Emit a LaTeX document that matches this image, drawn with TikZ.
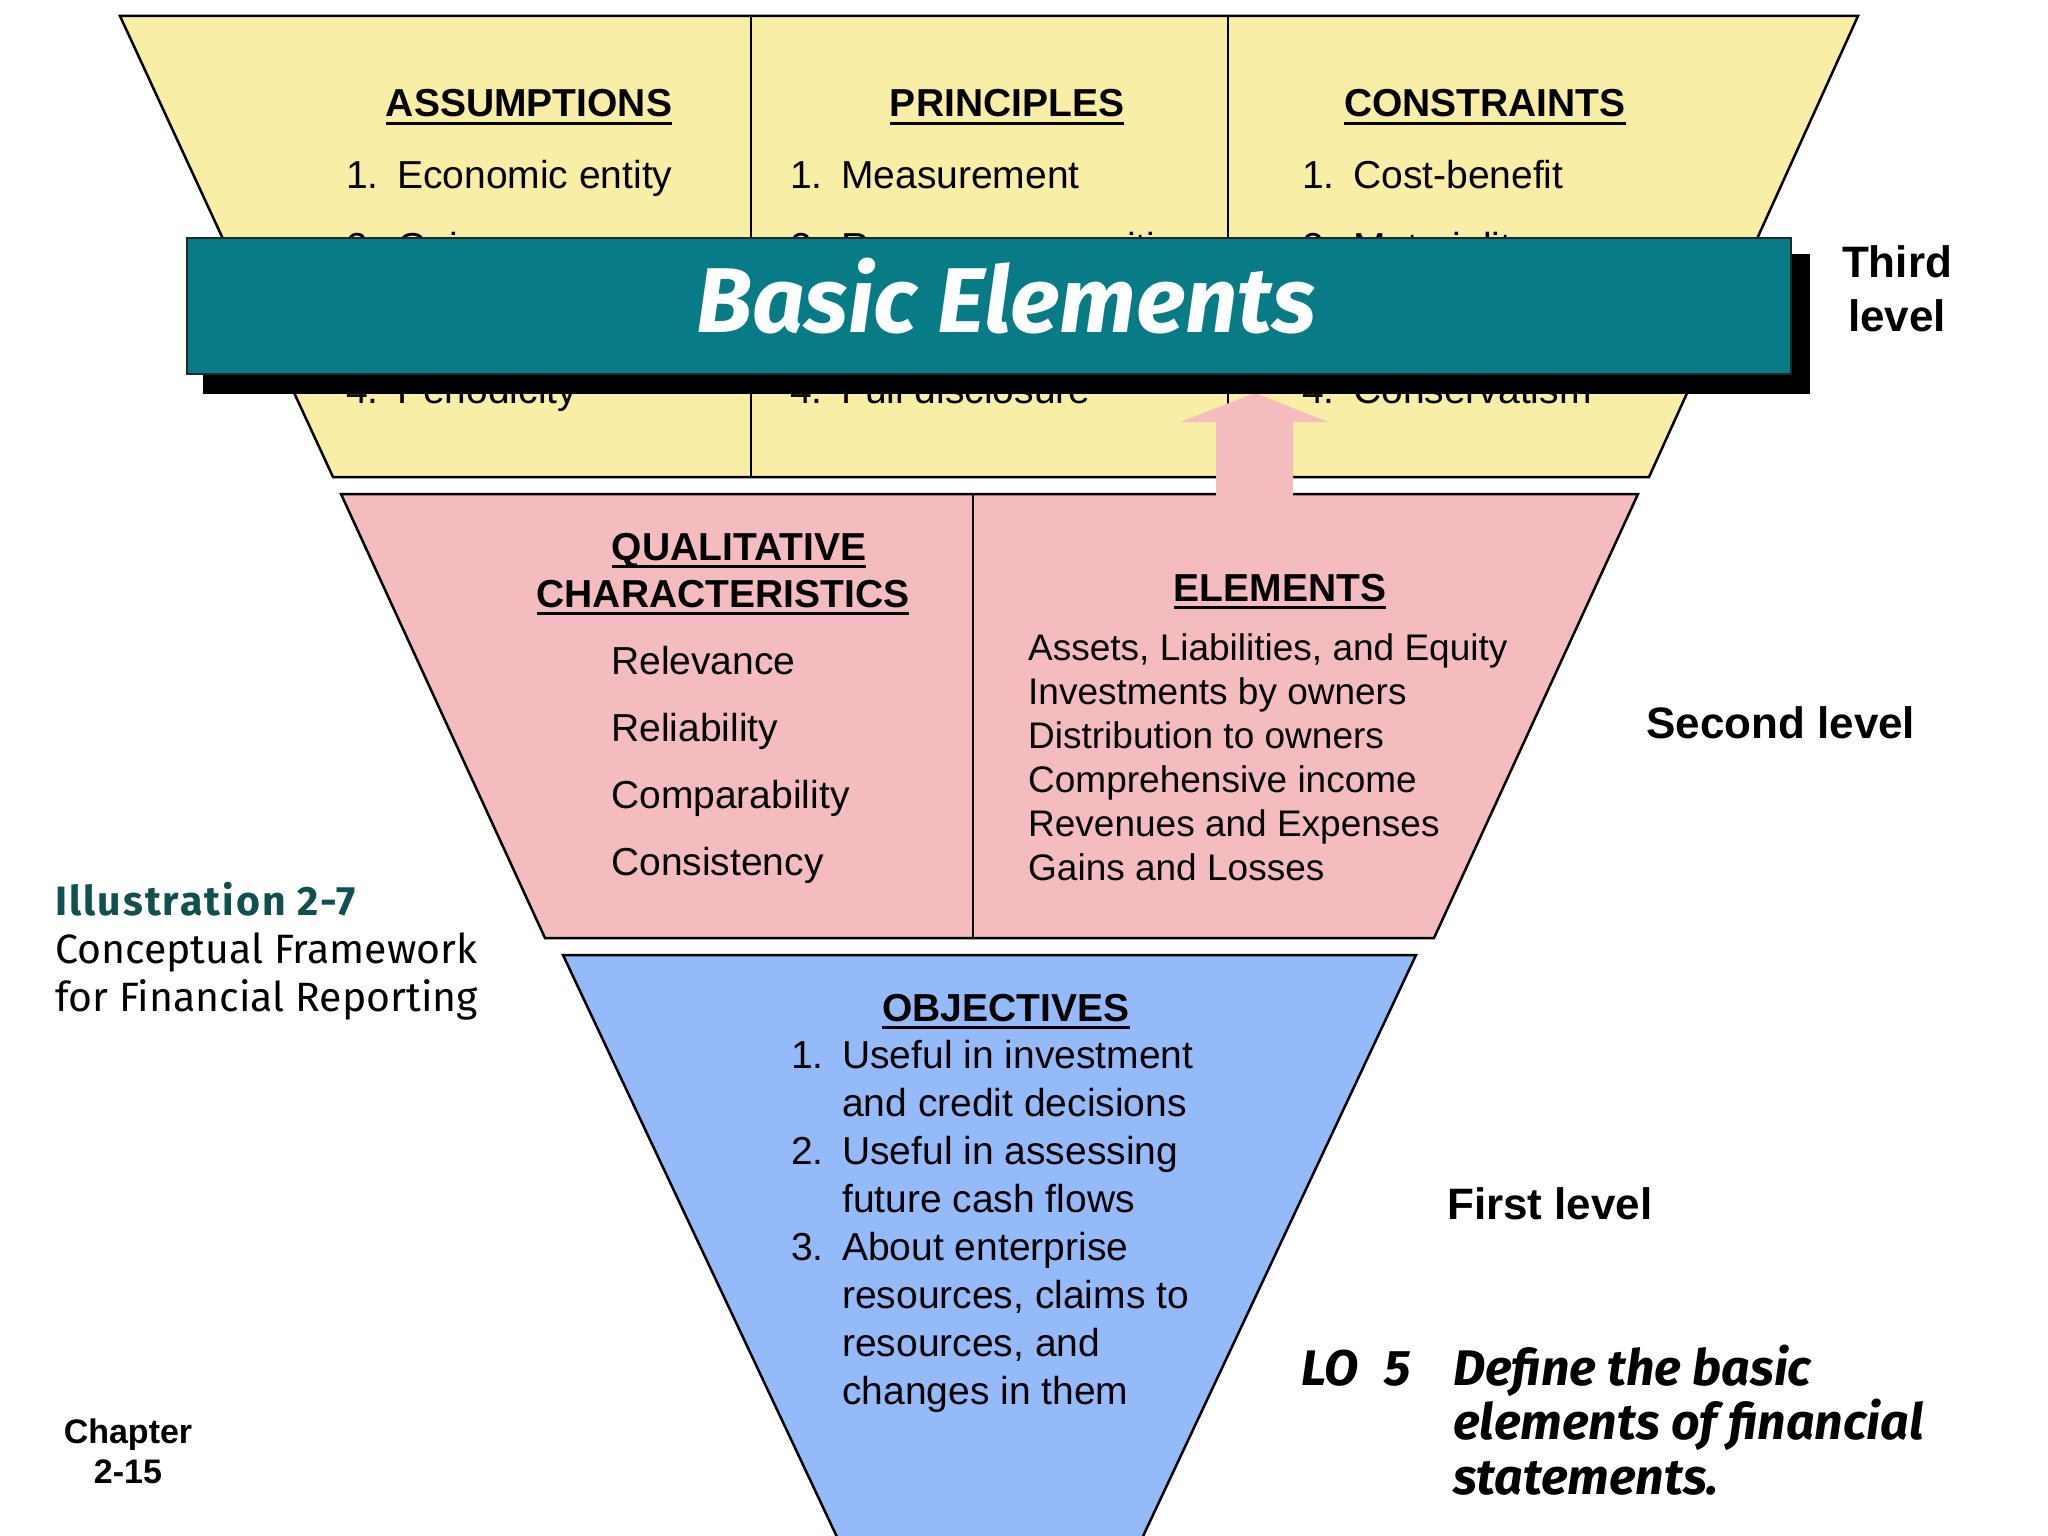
\documentclass[tikz,border=0pt]{standalone}
\usepackage{fontspec}
\setmainfont{Liberation Sans}
\newfontfamily\comicfont{Fira Sans}
\usetikzlibrary{positioning}
\definecolor{yellowtier}{RGB}{249,238,166}
\definecolor{pinktier}{RGB}{244,188,190}
\definecolor{bluetier}{RGB}{148,186,250}
\definecolor{bannerteal}{RGB}{8,124,134}
\definecolor{illteal}{RGB}{16,80,80}
\newcommand{\num}[1]{\makebox[51pt][l]{#1}}
\newsavebox{\headbox}
\newcommand{\uhead}[1]{\sbox{\headbox}{#1}\rlap{\rule[-8pt]{\wd\headbox}{3pt}}\usebox{\headbox}}

\begin{document}
\begin{tikzpicture}[x=1pt,y=-1pt,
  tier/.style={draw=black,line width=2.5pt},
  divider/.style={draw=black,line width=1.8pt},
  txt/.style={inner sep=0pt,anchor=base west,font=\fontsize{39pt}{47pt}\selectfont},
  elemtxt/.style={inner sep=0pt,anchor=base west,font=\fontsize{37pt}{44pt}\selectfont},
  head/.style={inner sep=0pt,anchor=base,font=\fontsize{39pt}{47pt}\selectfont\bfseries},
  level/.style={inner sep=0pt,anchor=base west,font=\fontsize{44pt}{53pt}\selectfont\bfseries},
  comic/.style={inner sep=0pt,anchor=base west,font=\fontsize{41pt}{48pt}\selectfont\comicfont},
  lotxt/.style={inner sep=0pt,anchor=base west,font=\fontsize{50pt}{55pt}\selectfont\comicfont\bfseries\itshape}]

  \fill[white] (0,0) rectangle (2048,1536);
  \useasboundingbox (0,0) rectangle (2048,1536);

  % third level
  \draw[tier,fill=yellowtier] (120,16) -- (1858,16) -- (1649,477) -- (333,477) -- cycle;
  \draw[divider] (751,16) -- (751,477);
  \draw[divider] (1228,16) -- (1228,477);

  \node[head] (asm)  at (529,117)  {\uhead{ASSUMPTIONS}};
  \node[head] (prin) at (1007,117) {\uhead{PRINCIPLES}};
  \node[head] (cons) at (1485,117) {\uhead{CONSTRAINTS}};

  \node[txt] (asm1) at (346,188) {\num{1.}Economic entity};
  \node[txt] (asm2) [below=72pt of asm1.base west,anchor=base west] {\num{2.}Going concern};
  \node[txt] (asm4) [below=143pt of asm2.base west,anchor=base west] {\num{4.}Periodicity};

  \node[txt] (prin1) at (790,188) {\num{1.}Measurement};
  \node[txt] (prin2) [below=72pt of prin1.base west,anchor=base west] {\num{2.}Revenue recognition};
  \node[txt] (prin4) [below=143pt of prin2.base west,anchor=base west] {\num{4.}Full disclosure};

  \node[txt] (cons1) at (1302,188) {\num{1.}Cost-benefit};
  \node[txt] (cons2) [below=72pt of cons1.base west,anchor=base west] {\num{2.}Materiality};
  \node[txt] (cons4) [below=143pt of cons2.base west,anchor=base west] {\num{4.}Conservatism};

  % second level
  \draw[tier,fill=pinktier] (341,494) -- (1638,494) -- (1434,938) -- (545,938) -- cycle;
  \draw[divider] (973,494) -- (973,938);

  \node[head] (qual) at (739,560)  {\uhead{QUALITATIVE}};
  \node[head] (char) at (723,607)  {\uhead{CHARACTERISTICS}};
  \node[head] (elem) at (1280,601) {\uhead{ELEMENTS}};

  \node[txt] (relev) at (611,674) {Relevance};
  \node[txt] (relia) [below=67pt of relev.base west,anchor=base west] {Reliability};
  \node[txt] (compa) [below=67pt of relia.base west,anchor=base west] {Comparability};
  \node[txt] (consi) [below=67pt of compa.base west,anchor=base west] {Consistency};

  \node[elemtxt] (ale)  at (1028,660) {Assets, Liabilities, and Equity};
  \node[elemtxt] (inv)  [below=44pt of ale.base west,anchor=base west]  {Investments by owners};
  \node[elemtxt] (dist) [below=44pt of inv.base west,anchor=base west]  {Distribution to owners};
  \node[elemtxt] (comp) [below=44pt of dist.base west,anchor=base west] {Comprehensive income};
  \node[elemtxt] (rev)  [below=44pt of comp.base west,anchor=base west] {Revenues and Expenses};
  \node[elemtxt] (gain) [below=44pt of rev.base west,anchor=base west]  {Gains and Losses};

  % arrow up to the basic elements
  \fill[pinktier] (1216,502) -- (1216,422) -- (1180,422) -- (1255,393) -- (1328,422) -- (1293,422) -- (1293,502) -- cycle;

  % banner
  \fill[black] (203,254) rectangle (1810,394);
  \draw[fill=bannerteal,draw=black!85,line width=1.5pt] (187,238) rectangle (1791,374);
  \node[inner sep=0pt,anchor=base,text=white,font=\fontsize{92pt}{110pt}\selectfont\comicfont\bfseries\itshape]
    (basic) at (1006,332) {Basic Elements};

  % first level
  \begin{scope}
    \clip (0,0) rectangle (2048,1536);
    \draw[tier,fill=bluetier] (563,955) -- (1416,955) -- (990,1862) -- cycle;
  \end{scope}

  \node[head] (obj) at (1006,1021) {\uhead{OBJECTIVES}};
  \node[txt] (obj1)  at (791,1068) {\num{1.}Useful in investment};
  \node[txt] (obj1b) [below=48pt of obj1.base west,anchor=base west]  {\num{}and credit decisions};
  \node[txt] (obj2)  [below=48pt of obj1b.base west,anchor=base west] {\num{2.}Useful in assessing};
  \node[txt] (obj2b) [below=48pt of obj2.base west,anchor=base west]  {\num{}future cash flows};
  \node[txt] (obj3)  [below=48pt of obj2b.base west,anchor=base west] {\num{3.}About enterprise};
  \node[txt] (obj3b) [below=48pt of obj3.base west,anchor=base west]  {\num{}resources, claims to};
  \node[txt] (obj3c) [below=48pt of obj3b.base west,anchor=base west] {\num{}resources, and};
  \node[txt] (obj3d) [below=48pt of obj3c.base west,anchor=base west] {\num{}changes in them};

  % level labels
  \node[level,anchor=base] (third)  at (1897,277) {Third};
  \node[level] (thirdb) [below=54pt of third.base,anchor=base] {level};
  \node[level] (second) at (1646,738)  {Second level};
  \node[level] (first)  at (1447,1219) {First level};

  % captions
  \node[comic,text=illteal,font=\fontsize{41pt}{48pt}\selectfont\comicfont\bfseries\addfontfeatures{LetterSpace=5}]
    (ill) at (55,915) {Illustration 2-7};
  \node[comic] (concept) [below=48pt of ill.base west,anchor=base west] {Conceptual Framework};
  \node[comic] (report)  [below=48pt of concept.base west,anchor=base west] {for Financial Reporting};

  \node[lotxt] (lo)  at (1301,1385) {LO\hspace{26pt}5};
  \node[lotxt] (lo1) at (1453,1385) {Define the basic};
  \node[lotxt] (lo2) [below=54pt of lo1.base west,anchor=base west] {elements of financial};
  \node[lotxt] (lo3) [below=55pt of lo2.base west,anchor=base west] {statements.};

  \node[inner sep=0pt,anchor=base,font=\fontsize{34pt}{40pt}\selectfont\bfseries] (chap) at (128,1443) {Chapter};
  \node[inner sep=0pt,anchor=base,font=\fontsize{34pt}{40pt}\selectfont\bfseries] (chapnum) [below=40pt of chap.base,anchor=base] {2-15};

\end{tikzpicture}
\end{document}
